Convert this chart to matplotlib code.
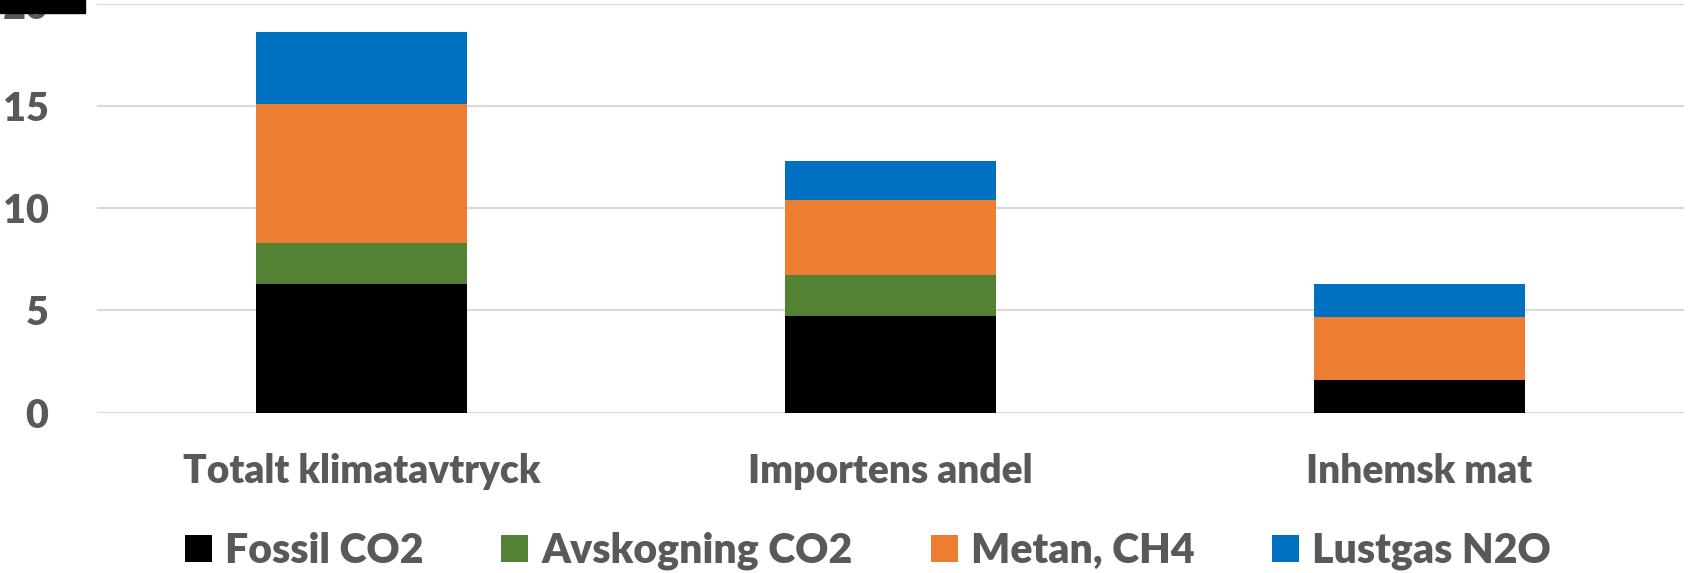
import matplotlib
matplotlib.use('Agg')
import matplotlib.pyplot as plt
import numpy as np
from matplotlib.patches import Rectangle

# Data
kategorier = ['Totalt klimatavtryck', 'Importens andel', 'Inhemsk mat']
fossil_co2 = [6.28, 4.71, 1.58]
avskogning_co2 = [2.0, 2.0, 0.0]
metan_ch4 = [6.82, 3.68, 3.11]
lustgas_n2o = [3.5, 1.9, 1.6]

serier = ['Fossil CO2', 'Avskogning CO2', 'Metan, CH4', 'Lustgas N2O']
farger = ['#000000', '#548235', '#ED7D31', '#0070C0']
yticks = [0, 5, 10, 15, 20]

plt.rcParams['font.family'] = ['Lato', 'DejaVu Sans']
plt.rcParams['font.weight'] = 'heavy'
textfarg = '#595959'

fig = plt.figure(figsize=(16.89, 5.73), dpi=100)
ax = fig.add_axes([97 / 1689, 1 - 412.6 / 573, (1684 - 97) / 1689, (412.6 - 3.7) / 573])

x = np.arange(len(kategorier))
botten = np.zeros(len(kategorier))
for namn, varden, farg in zip(serier, [fossil_co2, avskogning_co2, metan_ch4, lustgas_n2o], farger):
    ax.bar(x, varden, width=0.4, bottom=botten, color=farg, label=namn, zorder=3)
    botten += np.array(varden)

ax.set_xlim(-0.5, 2.5)
ax.set_ylim(0, 20)
ax.set_yticks(yticks)
ax.set_xticks(x)
ax.set_xticklabels(kategorier)
ax.tick_params(axis='y', length=0, pad=35, labelsize=28.5, labelcolor=textfarg)
ax.tick_params(axis='x', length=0, pad=29, labelsize=28, labelcolor=textfarg)
for t in ax.get_yticklabels() + ax.get_xticklabels():
    t.set_fontweight('heavy')
ax.grid(axis='y', color='#D9D9D9', linewidth=1.5, zorder=0)
for s in ax.spines.values():
    s.set_visible(False)

leg = fig.legend(loc='center', bbox_to_anchor=(0.514, 0.038), ncol=4, frameon=False,
                 fontsize=29.5, handlelength=0.66, handleheight=0.66, handletextpad=0.32,
                 columnspacing=1.9)
for t in leg.get_texts():
    t.set_color(textfarg)
    t.set_fontweight('heavy')

# svart ruta uppe till vänster (som i originalet)
fig.patches.append(Rectangle((0, 1 - 13 / 573), 85 / 1689, 13 / 573,
                             transform=fig.transFigure, color='black', zorder=10))

fig.savefig('out.png', dpi=100)
